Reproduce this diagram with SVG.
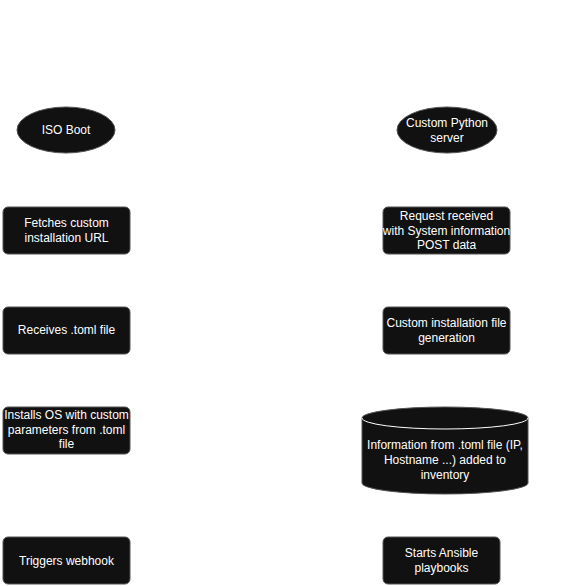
<svg xmlns="http://www.w3.org/2000/svg" width="562" height="586" viewBox="0 0 562 586">
<style>
.n{fill:#111111;stroke:#555555;stroke-width:1}
.t{font-family:"Liberation Sans",Arial,sans-serif;font-size:12px;fill:#ffffff;text-anchor:middle}
</style>
<rect width="562" height="586" fill="#ffffff"/>
<g id="connectors"></g>
<g id="iso-boot">
<ellipse class="n" cx="66" cy="130" rx="49" ry="23"/>
<text class="t" x="66" y="134">ISO Boot</text>
</g>
<g id="python-server">
<ellipse class="n" cx="447" cy="130" rx="50" ry="23"/>
<text class="t" x="447" y="127">Custom Python</text>
<text class="t" x="447" y="142">server</text>
</g>
<g id="fetches">
<rect class="n" x="3" y="207" width="127" height="47" rx="5"/>
<text class="t" x="66.5" y="227">Fetches custom</text>
<text class="t" x="66.5" y="242">installation URL</text>
</g>
<g id="request">
<rect class="n" x="383" y="207" width="127" height="47" rx="5"/>
<text class="t" x="446.5" y="220">Request received</text>
<text class="t" x="446.5" y="235">with System information</text>
<text class="t" x="446.5" y="249">POST data</text>
</g>
<g id="receives">
<rect class="n" x="3" y="307" width="127" height="47" rx="5"/>
<text class="t" x="66.5" y="334">Receives .toml file</text>
</g>
<g id="generation">
<rect class="n" x="383" y="307" width="127" height="47" rx="5"/>
<text class="t" x="446.5" y="327">Custom installation file</text>
<text class="t" x="446.5" y="342">generation</text>
</g>
<g id="installs">
<rect class="n" x="3" y="407" width="127" height="47" rx="5"/>
<text class="t" x="66.5" y="419">Installs OS with custom</text>
<text class="t" x="66.5" y="434">parameters from .toml</text>
<text class="t" x="66.5" y="448">file</text>
</g>
<g id="inventory">
<path class="n" d="M362,418 A83,11 0 0 1 528,418 V483 A83,11 0 0 1 362,483 Z"/>
<path d="M362,418 A83,11 0 0 0 528,418" fill="none" stroke="#ffffff" stroke-width="1"/>
<text class="t" x="445" y="449">Information from .toml file (IP,</text>
<text class="t" x="445" y="464">Hostname ...) added to</text>
<text class="t" x="445" y="479">inventory</text>
</g>
<g id="webhook">
<rect class="n" x="3" y="537" width="127" height="47" rx="5"/>
<text class="t" x="66.5" y="565">Triggers webhook</text>
</g>
<g id="ansible">
<rect class="n" x="383" y="537" width="117" height="47" rx="5"/>
<text class="t" x="441.5" y="557">Starts Ansible</text>
<text class="t" x="441.5" y="572">playbooks</text>
</g>
</svg>
